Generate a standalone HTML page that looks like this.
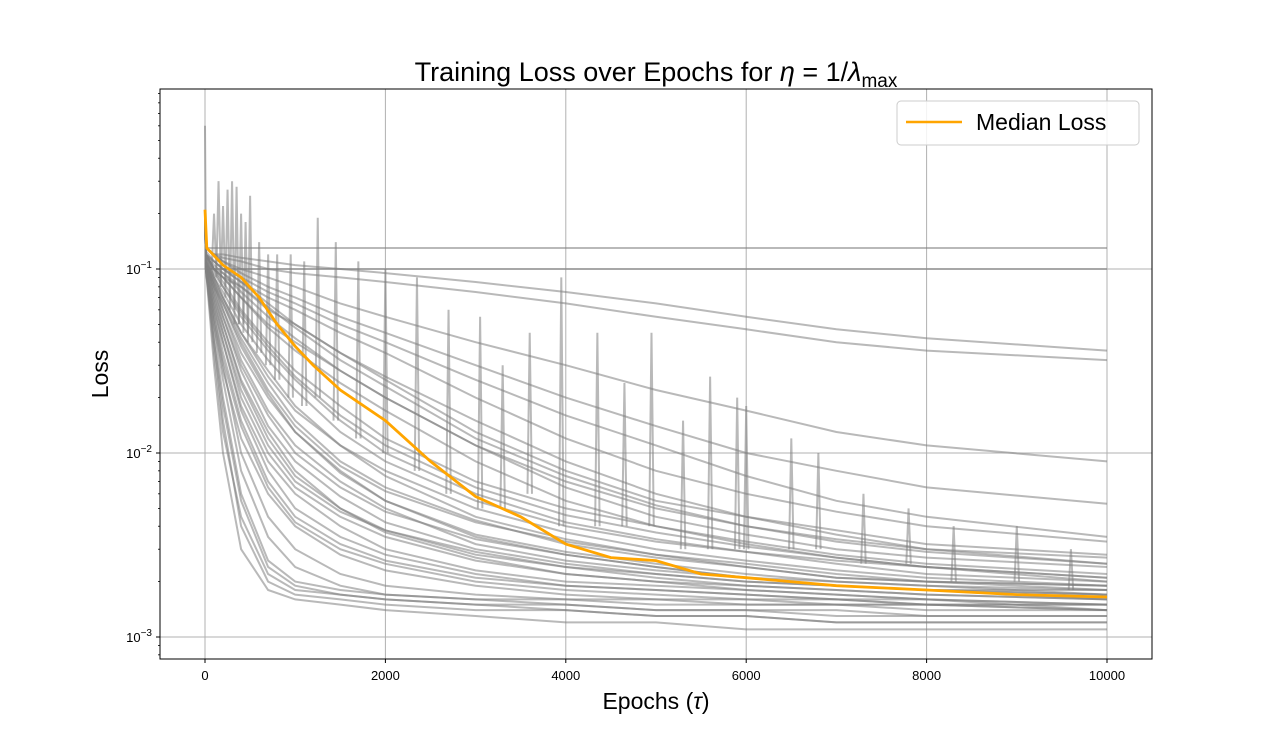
<!DOCTYPE html>
<html><head><meta charset="utf-8"><style>
body{margin:0;background:#fff;}
svg{display:block;font-family:"Liberation Sans","DejaVu Sans",sans-serif;}
</style></head><body>
<svg id="chart" width="1280" height="740">
<rect width="1280" height="740" fill="#fff"/>
<g id="grid"></g>
<g id="lines"></g>
<g id="axes"></g>
<text x="656" y="81" text-anchor="middle" font-size="27">Training Loss over Epochs for <tspan font-style="italic">η</tspan> = 1/<tspan font-style="italic">λ</tspan><tspan font-size="19" dy="6">max</tspan></text>
<text x="656" y="709" text-anchor="middle" font-size="23">Epochs (<tspan font-style="italic">τ</tspan>)</text>
<text transform="translate(108,374) rotate(-90)" text-anchor="middle" font-size="23">Loss</text>
<g>
<rect x="897" y="101" width="242" height="44" rx="4" fill="#fff" fill-opacity="0.85" stroke="#ccc"/>
<line x1="906" y1="122" x2="962" y2="122" stroke="orange" stroke-width="2.5"/>
<text x="976" y="130" font-size="23">Median Loss</text>
</g>
</svg>
<script>
const epochs=[0,10,100,200,400,700,1000,1500,2000,3000,4000,5000,6000,7000,8000,10000];
const curves=[
[0.6,0.13,0.13,0.13,0.13,0.13,0.13,0.13,0.13,0.13,0.13,0.13,0.13,0.13,0.13,0.13],
[0.2,0.1,0.1,0.1,0.1,0.1,0.1,0.1,0.1,0.1,0.1,0.1,0.1,0.1,0.1,0.1],
[0.2,0.13,0.12,0.12,0.115,0.11,0.105,0.1,0.095,0.085,0.075,0.065,0.055,0.047,0.042,0.036],
[0.2,0.13,0.12,0.115,0.11,0.1,0.095,0.09,0.085,0.075,0.065,0.055,0.047,0.04,0.036,0.032],
[0.2,0.13,0.12,0.11,0.1,0.09,0.08,0.065,0.055,0.04,0.03,0.022,0.017,0.013,0.011,0.009],
[0.2,0.13,0.12,0.11,0.095,0.08,0.07,0.055,0.045,0.03,0.02,0.014,0.01,0.008,0.0065,0.0053],
[0.2,0.125,0.11,0.1,0.085,0.07,0.06,0.045,0.035,0.02,0.012,0.008,0.006,0.0048,0.004,0.0033],
[0.2,0.12,0.1,0.09,0.07,0.05,0.04,0.028,0.02,0.011,0.007,0.005,0.004,0.0034,0.003,0.0027],
[0.2,0.12,0.1,0.085,0.06,0.04,0.028,0.018,0.012,0.007,0.005,0.004,0.0033,0.0028,0.0025,0.0022],
[0.2,0.12,0.09,0.07,0.045,0.028,0.018,0.011,0.0075,0.0045,0.0034,0.0028,0.0024,0.0021,0.002,0.0019],
[0.2,0.11,0.08,0.06,0.035,0.02,0.013,0.008,0.0055,0.0035,0.0028,0.0024,0.0021,0.0019,0.0018,0.0017],
[0.2,0.11,0.07,0.05,0.025,0.013,0.008,0.005,0.0037,0.0027,0.0022,0.002,0.0018,0.0017,0.0016,0.0015],
[0.2,0.1,0.06,0.035,0.015,0.007,0.0045,0.0032,0.0026,0.0021,0.0019,0.0018,0.0017,0.0016,0.0015,0.0015],
[0.2,0.1,0.05,0.025,0.008,0.0035,0.0024,0.0019,0.0017,0.0016,0.0015,0.0014,0.0014,0.0013,0.0013,0.0013],
[0.2,0.1,0.04,0.015,0.004,0.002,0.0017,0.0016,0.0015,0.0014,0.0014,0.0013,0.0013,0.0012,0.0012,0.0012],
[0.2,0.1,0.03,0.01,0.003,0.0018,0.0016,0.0015,0.0014,0.0013,0.0012,0.0012,0.0011,0.0011,0.0011,0.0011],
[0.2,0.12,0.1,0.09,0.08,0.06,0.05,0.035,0.025,0.013,0.008,0.0055,0.0045,0.0038,0.0032,0.0028],
[0.2,0.12,0.09,0.075,0.05,0.032,0.022,0.013,0.009,0.0055,0.004,0.0033,0.0029,0.0026,0.0024,0.0021],
[0.2,0.11,0.085,0.065,0.04,0.022,0.014,0.0085,0.0062,0.0042,0.0033,0.0028,0.0025,0.0022,0.002,0.0018],
[0.2,0.11,0.075,0.055,0.03,0.016,0.01,0.0065,0.0048,0.0034,0.0028,0.0024,0.0021,0.0019,0.0018,0.0016],
[0.2,0.11,0.065,0.045,0.02,0.01,0.0065,0.0045,0.0035,0.0026,0.0022,0.002,0.0019,0.0018,0.0017,0.0016],
[0.2,0.105,0.06,0.04,0.018,0.009,0.006,0.004,0.003,0.0023,0.002,0.0019,0.0018,0.0017,0.0016,0.0014],
[0.2,0.12,0.11,0.1,0.085,0.065,0.05,0.035,0.026,0.015,0.009,0.006,0.0045,0.0036,0.003,0.0025],
[0.2,0.12,0.1,0.095,0.075,0.055,0.042,0.028,0.02,0.011,0.0065,0.0045,0.0036,0.003,0.0027,0.0024],
[0.2,0.11,0.08,0.055,0.028,0.014,0.009,0.0058,0.0042,0.003,0.0025,0.0022,0.002,0.0019,0.0018,0.0018],
[0.2,0.1,0.055,0.03,0.01,0.0045,0.003,0.0022,0.0019,0.0017,0.0016,0.0016,0.0015,0.0015,0.0015,0.0014],
[0.2,0.12,0.1,0.09,0.07,0.048,0.036,0.024,0.017,0.009,0.0055,0.004,0.0032,0.0027,0.0024,0.002],
[0.2,0.12,0.11,0.1,0.09,0.075,0.065,0.05,0.04,0.025,0.016,0.011,0.0075,0.0055,0.0045,0.0035],
[0.2,0.11,0.09,0.07,0.045,0.026,0.017,0.011,0.008,0.005,0.0037,0.003,0.0026,0.0023,0.0021,0.0019],
[0.2,0.1,0.045,0.02,0.006,0.0026,0.002,0.0018,0.0017,0.0016,0.0016,0.0015,0.0015,0.0015,0.0014,0.0014],
[0.2,0.115,0.085,0.06,0.032,0.017,0.011,0.007,0.005,0.0032,0.0026,0.0023,0.0021,0.002,0.0019,0.0017],
[0.2,0.12,0.095,0.08,0.055,0.036,0.025,0.015,0.01,0.006,0.0042,0.0034,0.0029,0.0025,0.0022,0.002],
[0.2,0.11,0.07,0.045,0.022,0.011,0.007,0.0048,0.0038,0.0028,0.0024,0.0021,0.0019,0.0018,0.0017,0.0016],
[0.2,0.1,0.05,0.028,0.012,0.006,0.004,0.0028,0.0023,0.0019,0.0017,0.0016,0.0016,0.0015,0.0015,0.0015],
[0.2,0.1,0.035,0.013,0.0045,0.0022,0.0018,0.0017,0.0016,0.0015,0.0015,0.0014,0.0014,0.0014,0.0013,0.0013],
[0.2,0.11,0.075,0.05,0.024,0.012,0.0075,0.005,0.0038,0.0029,0.0024,0.0022,0.002,0.0019,0.0018,0.0017],
[0.2,0.115,0.08,0.065,0.038,0.021,0.013,0.0078,0.0055,0.0036,0.0029,0.0025,0.0022,0.002,0.0019,0.0018],
[0.2,0.12,0.1,0.08,0.058,0.038,0.026,0.016,0.011,0.0065,0.0046,0.0037,0.0031,0.0027,0.0024,0.0021],
[0.2,0.105,0.055,0.032,0.014,0.0065,0.0042,0.003,0.0025,0.002,0.0018,0.0017,0.0016,0.0016,0.0015,0.0014],
[0.2,0.1,0.04,0.018,0.0055,0.0024,0.0019,0.0017,0.0016,0.0015,0.0014,0.0013,0.0013,0.0012,0.0012,0.0012],
[0.2,0.12,0.105,0.095,0.08,0.062,0.048,0.032,0.023,0.012,0.0075,0.0052,0.004,0.0033,0.0029,0.0025],
[0.2,0.11,0.085,0.068,0.042,0.024,0.015,0.009,0.0065,0.0043,0.0032,0.0027,0.0024,0.0021,0.002,0.0019],
[0.2,0.1,0.065,0.04,0.017,0.008,0.005,0.0035,0.0028,0.0022,0.0019,0.0018,0.0017,0.0016,0.0016,0.0015]
];
const spikeEpochs=[100,150,200,250,300,350,400,450,500,600,700,800,950,1100,1250,1450,1700,2000,2350,2700,3050,3300,3600,3950,4350,4650,4950,5300,5600,5900,6000,6500,6800,7300,7800,8300,9000,9600];
const spikeBase=[0.1,0.09,0.08,0.07,0.06,0.05,0.05,0.045,0.04,0.035,0.03,0.025,0.02,0.018,0.02,0.015,0.012,0.01,0.008,0.006,0.005,0.005,0.006,0.004,0.004,0.004,0.004,0.003,0.003,0.003,0.003,0.003,0.003,0.0025,0.0025,0.002,0.002,0.0018];
const spikePeak=[0.2,0.3,0.22,0.27,0.3,0.28,0.2,0.18,0.25,0.14,0.12,0.12,0.12,0.11,0.19,0.14,0.11,0.1,0.09,0.06,0.055,0.03,0.045,0.09,0.045,0.024,0.045,0.015,0.026,0.02,0.018,0.012,0.01,0.006,0.005,0.004,0.004,0.003];
const medEpochs=[0,20,200,400,600,800,1000,1200,1500,2000,2500,3000,3500,4000,4500,5000,5500,6000,7000,8000,9000,10000];
const medLoss=[0.21,0.13,0.105,0.09,0.07,0.05,0.038,0.03,0.022,0.015,0.009,0.0058,0.0045,0.0032,0.0027,0.0026,0.0022,0.0021,0.0019,0.0018,0.0017,0.00165];
const xTicks=[0,2000,4000,6000,8000,10000];
const yTicks=[-3,-2,-1];

const L=160,R=1152,T=89,B=659;
const X=e=>205+(e/10000)*902;
const Y=v=>269-(Math.log10(v)+1)*184;
const NS='http://www.w3.org/2000/svg';
function mk(tag,attrs,parent){const el=document.createElementNS(NS,tag);for(const k in attrs)el.setAttribute(k,attrs[k]);parent.appendChild(el);return el;}
const grid=document.getElementById('grid'),lines=document.getElementById('lines'),axes=document.getElementById('axes');
xTicks.forEach(t=>{
 const g=mk('line',{x1:X(t),x2:X(t),y1:T,y2:B,stroke:'#b0b0b0','stroke-width':1},grid);
 
 
 const tk=mk('line',{x1:X(t),x2:X(t),y1:B,y2:B+4,stroke:'#000'},axes);
 
 
 const tx=mk('text',{x:X(t),y:B+21,'text-anchor':'middle','font-size':13},axes);
 tx.textContent=t;
 
 
});
yTicks.forEach(p=>{
 const v=Math.pow(10,p);
 const g=mk('line',{x1:L,x2:R,y1:Y(v),y2:Y(v),stroke:'#b0b0b0','stroke-width':1},grid);
 
 
 const tk=mk('line',{x1:L-4,x2:L,y1:Y(v),y2:Y(v),stroke:'#000'},axes);
 
 
 const tx=mk('text',{x:L-8,y:Y(v)+5,'text-anchor':'end','font-size':13},axes);
 tx.innerHTML='10<tspan font-size="10" dy="-6">−'+(-p)+'</tspan>';
 
 
});
for(let p=-4;p<=0;p++)for(let m=2;m<=9;m++){
 const v=m*Math.pow(10,p),y=Y(v);
 if(y<T||y>B)continue;
 const tk=mk('line',{x1:L-2,x2:L,y1:y,y2:y,stroke:'#000','stroke-width':0.8},axes);
 
 
}
curves.forEach(c=>{
 const d=c.map((v,i)=>(i?'L':'M')+X(epochs[i]).toFixed(1)+','+Y(v).toFixed(1)).join('');
 const p=mk('path',{d:d,fill:'none',stroke:'#808080','stroke-opacity':0.55,'stroke-width':2},lines);
 
 
});
spikeEpochs.forEach((e,i)=>{
 const d='M'+X(e-25)+','+Y(spikeBase[i])+'L'+X(e)+','+Y(spikePeak[i])+'L'+X(e+25)+','+Y(spikeBase[i]);
 const p=mk('path',{d:d,fill:'none',stroke:'#808080','stroke-opacity':0.55,'stroke-width':2},lines);
 
 
});
const md=medLoss.map((v,i)=>(i?'L':'M')+X(medEpochs[i]).toFixed(1)+','+Y(v).toFixed(1)).join('');
const mp=mk('path',{d:md,fill:'none',stroke:'orange','stroke-width':2.8},lines);


const fr=mk('rect',{x:L,y:T,width:R-L,height:B-T,fill:'none',stroke:'#000','stroke-width':1},axes);


</script>
</body></html>
